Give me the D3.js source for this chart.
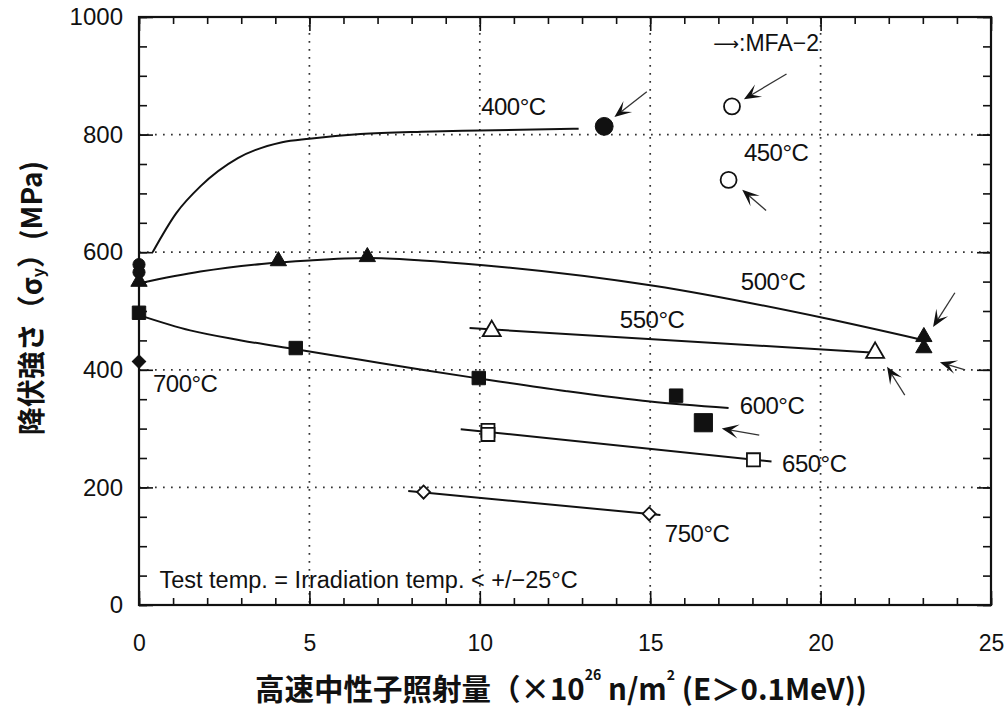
<!DOCTYPE html>
<html><head><meta charset="utf-8">
<script src="https://cdn.jsdelivr.net/npm/d3@7"></script>
<style>body{margin:0;background:#fff}</style>
</head><body><svg id="c" width="1007" height="708"></svg>
<script>
// ---------- data ----------
const xTicks = [0, 5, 10, 15, 20, 25];
const yTicks = [0, 200, 400, 600, 800, 1000];

// fitted curves (fluence, yield stress)
const curve400 = [[0.4,600],[1.1,667],[1.8,712],[2.9,760],[4.2,787],[5.0,793],[6.5,801],[8.3,805],[10,807],[12.9,810]];
const curve500 = [[0,547],[1.8,567],[3.6,580],[5,586],[6.7,590],[8.3,586],[10.1,578],[15.1,543],[20.1,488],[22.9,452]];
const curve550 = [[9.7,471],[21.6,429]];
const curve600 = [[0,493],[1.5,467],[3,450],[4.6,435],[6.5,417],[8.3,400],[10,385],[12.5,364],[15,346],[17.3,335]];
const curve650 = [[9.44,299],[18.56,244]];
const curve750 = [[7.9,194],[15.3,153]];

// measured points
const pts400 = [[0,579],[0,566]];
const pts400mfa = [[13.65,814]];
const pts450mfa = [[17.4,848],[17.3,723]];
const pts500 = [[0,550],[4.09,585],[6.7,592]];
const pts500mfa = [[23.03,456],[23.03,437]];
const pts550 = [[10.35,466]];
const pts550mfa = [[21.6,429]];
const pts600 = [[0,497],[4.6,437],[9.97,386],[15.76,356]];
const pts600mfa = [[16.56,310]];
const pts650 = [[10.24,297],[10.24,290],[18.03,247]];
const pts700 = [[0,414]];
const pts750 = [[8.35,192],[14.97,155]];

// MFA-2 arrows: [tailX, tailY, headX, headY]
const arrows = [
  [14.9,873,13.95,830],
  [19.0,903,17.75,860],
  [18.4,671,17.7,706],
  [23.94,531,23.3,473],
  [24.24,400,23.5,413],
  [22.47,357,21.95,405],
  [18.2,289,17.1,300]
];

const seriesLabels = ["400°C","450°C","500°C","550°C","600°C","650°C","700°C","750°C"];
const labelAt = [[10.04,847],[17.75,770],[17.66,551],[14.11,485],[17.63,340],[18.87,241],[0.41,376],[15.43,121]];
const noteText = "Test temp. = Irradiation temp. < +/\u221225°C";
const legendText = ["\u27F6", ":MFA\u22122"];
const yTitle = ["降伏強さ（σ","y","）(MPa)"];
const xTitle = ["高速中性子照射量（×10","26"," n/m","2"," (E＞0.1MeV))"];

// ---------- drawing ----------
const svg = d3.select("#c");
const ink = "#111";
const x = d3.scaleLinear().domain([0,25]).range([139,991]);
const y = d3.scaleLinear().domain([0,1000]).range([605,17]);
const L=139,R=991,T=17,B=605;

// gridlines
const g = svg.append("g").attr("stroke","#333").attr("stroke-width",1.7).attr("stroke-dasharray","1.7,6.3");
[200,400,600,800].forEach(v=>g.append("line").attr("x1",L).attr("x2",R).attr("y1",y(v)).attr("y2",y(v)));
[5,10,15,20].forEach(v=>g.append("line").attr("y1",T).attr("y2",B).attr("x1",x(v)).attr("x2",x(v)));

// axes
const fontNum = "'Liberation Sans', Arial, sans-serif";
function styleAxis(sel){ sel.select(".domain").remove(); sel.selectAll("line").attr("stroke",ink).attr("stroke-width",1.6); }
svg.append("g").attr("transform",`translate(${L},0)`).call(d3.axisLeft(y).tickValues(d3.range(0,1001,50)).tickSize(-8).tickFormat("")).call(styleAxis);
svg.append("g").attr("transform",`translate(${L},0)`).call(d3.axisLeft(y).tickValues(yTicks).tickSize(-14).tickPadding(16).tickFormat(d3.format("d"))).call(styleAxis)
  .selectAll("text").attr("font-family",fontNum).attr("font-size",24).attr("fill",ink);
svg.append("g").attr("transform",`translate(${R},0)`).call(d3.axisRight(y).tickValues(d3.range(0,1001,50)).tickSize(-8).tickFormat("")).call(styleAxis);
svg.append("g").attr("transform",`translate(${R},0)`).call(d3.axisRight(y).tickValues(yTicks).tickSize(-14).tickFormat("")).call(styleAxis);
svg.append("g").attr("transform",`translate(0,${T})`).call(d3.axisTop(x).tickValues(d3.range(0,26,1)).tickSize(-7).tickFormat("")).call(styleAxis);
svg.append("g").attr("transform",`translate(0,${T})`).call(d3.axisTop(x).tickValues(xTicks).tickSize(-14).tickFormat("")).call(styleAxis);
svg.append("g").attr("transform",`translate(0,${B})`).call(d3.axisBottom(x).tickValues(d3.range(0,26,1)).tickSize(-7).tickFormat("")).call(styleAxis);
svg.append("g").attr("transform",`translate(0,${B})`).call(d3.axisBottom(x).tickValues(xTicks).tickSize(-14).tickPadding(30).tickFormat(d3.format("d"))).call(styleAxis)
  .selectAll("text").attr("font-family",fontNum).attr("font-size",23).attr("fill",ink);
svg.append("rect").attr("x",L).attr("y",T).attr("width",R-L).attr("height",B-T).attr("fill","none").attr("stroke",ink).attr("stroke-width",2.2);

// curves
const smooth = d3.line().x(d=>x(d[0])).y(d=>y(d[1])).curve(d3.curveMonotoneX);
[curve400,curve500,curve550,curve600,curve650,curve750].forEach(c=>{
  svg.append("path").attr("d",smooth(c)).attr("fill","none").attr("stroke",ink).attr("stroke-width",2);
});

// markers
function marks(data, type, size, filled, rot){
  svg.append("g").selectAll("path").data(data).join("path")
    .attr("d", d3.symbol().type(type).size(size))
    .attr("transform", d=>`translate(${x(d[0])},${y(d[1])}) rotate(${rot||0})`)
    .attr("fill", filled?ink:"#fff").attr("stroke",ink).attr("stroke-width",filled?1:1.8);
}
marks(pts400, d3.symbolCircle, 115, true);
marks(pts400mfa, d3.symbolCircle, 250, true);
marks(pts450mfa, d3.symbolCircle, 200, false);
marks(pts500, d3.symbolTriangle, 115, true);
marks(pts500mfa, d3.symbolTriangle, 115, true);
marks(pts550, d3.symbolTriangle, 140, false);
marks(pts550mfa, d3.symbolTriangle, 140, false);
marks(pts600, d3.symbolSquare, 180, true);
marks(pts600mfa, d3.symbolSquare, 330, true);
marks(pts650, d3.symbolSquare, 170, false);
marks(pts700, d3.symbolSquare, 90, true, 45);
marks(pts750, d3.symbolSquare, 85, false, 45);

// arrows
const ag = svg.append("g");
arrows.forEach(a=>{
  const x1=x(a[0]),y1=y(a[1]),x2=x(a[2]),y2=y(a[3]);
  const ang=Math.atan2(y2-y1,x2-x1), c=Math.cos(ang), s=Math.sin(ang);
  const hl=17, hw=7, notch=9;
  ag.append("line").attr("x1",x1).attr("y1",y1).attr("x2",x2-c*notch).attr("y2",y2-s*notch).attr("stroke","#333").attr("stroke-width",1.3);
  const p=[[x2,y2],[x2-c*hl+s*hw,y2-s*hl-c*hw],[x2-c*notch,y2-s*notch],[x2-c*hl-s*hw,y2-s*hl+c*hw]];
  ag.append("path").attr("d","M"+p.map(q=>q.join(",")).join("L")+"Z").attr("fill",ink);
});

// labels
const lg = svg.append("g").attr("font-family",fontNum).attr("fill",ink);
seriesLabels.forEach((t,i)=>{
  lg.append("text").attr("x",x(labelAt[i][0])).attr("y",y(labelAt[i][1])).attr("dominant-baseline","central").attr("font-size",24).attr("letter-spacing",-0.5).text(t);
});
lg.append("text").attr("x",x(0.6)).attr("y",y(43)).attr("dominant-baseline","central").attr("font-size",23.5).text(noteText);
const lt = lg.append("text").attr("x",x(16.85)).attr("y",y(955)).attr("dominant-baseline","central").attr("font-size",23);
lt.append("tspan").attr("font-family","'DejaVu Sans', sans-serif").attr("font-size",18).text(legendText[0]);
lt.append("tspan").text(legendText[1]);

// axis titles
const tf = "'Noto Sans CJK JP', sans-serif";
const yt = svg.append("text").attr("transform","translate(30,298) rotate(-90)").attr("text-anchor","middle").attr("dominant-baseline","central")
  .attr("font-family",tf).attr("font-weight","bold").attr("font-size",28).attr("fill",ink);
yt.append("tspan").text(yTitle[0]);
yt.append("tspan").attr("font-size",16).attr("dy",7).text(yTitle[1]);
yt.append("tspan").attr("dy",-7).text(yTitle[2]);

const xt = svg.append("text").attr("x",561).attr("y",687).attr("text-anchor","middle").attr("dominant-baseline","central")
  .attr("font-family",tf).attr("font-weight","bold").attr("font-size",29.5).attr("fill",ink);
xt.append("tspan").text(xTitle[0]);
xt.append("tspan").attr("font-size",14).attr("dy",-13).text(xTitle[1]);
xt.append("tspan").attr("dy",13).text(xTitle[2]);
xt.append("tspan").attr("font-size",14).attr("dy",-13).text(xTitle[3]);
xt.append("tspan").attr("dy",13).text(xTitle[4]);
</script>
</body></html>
